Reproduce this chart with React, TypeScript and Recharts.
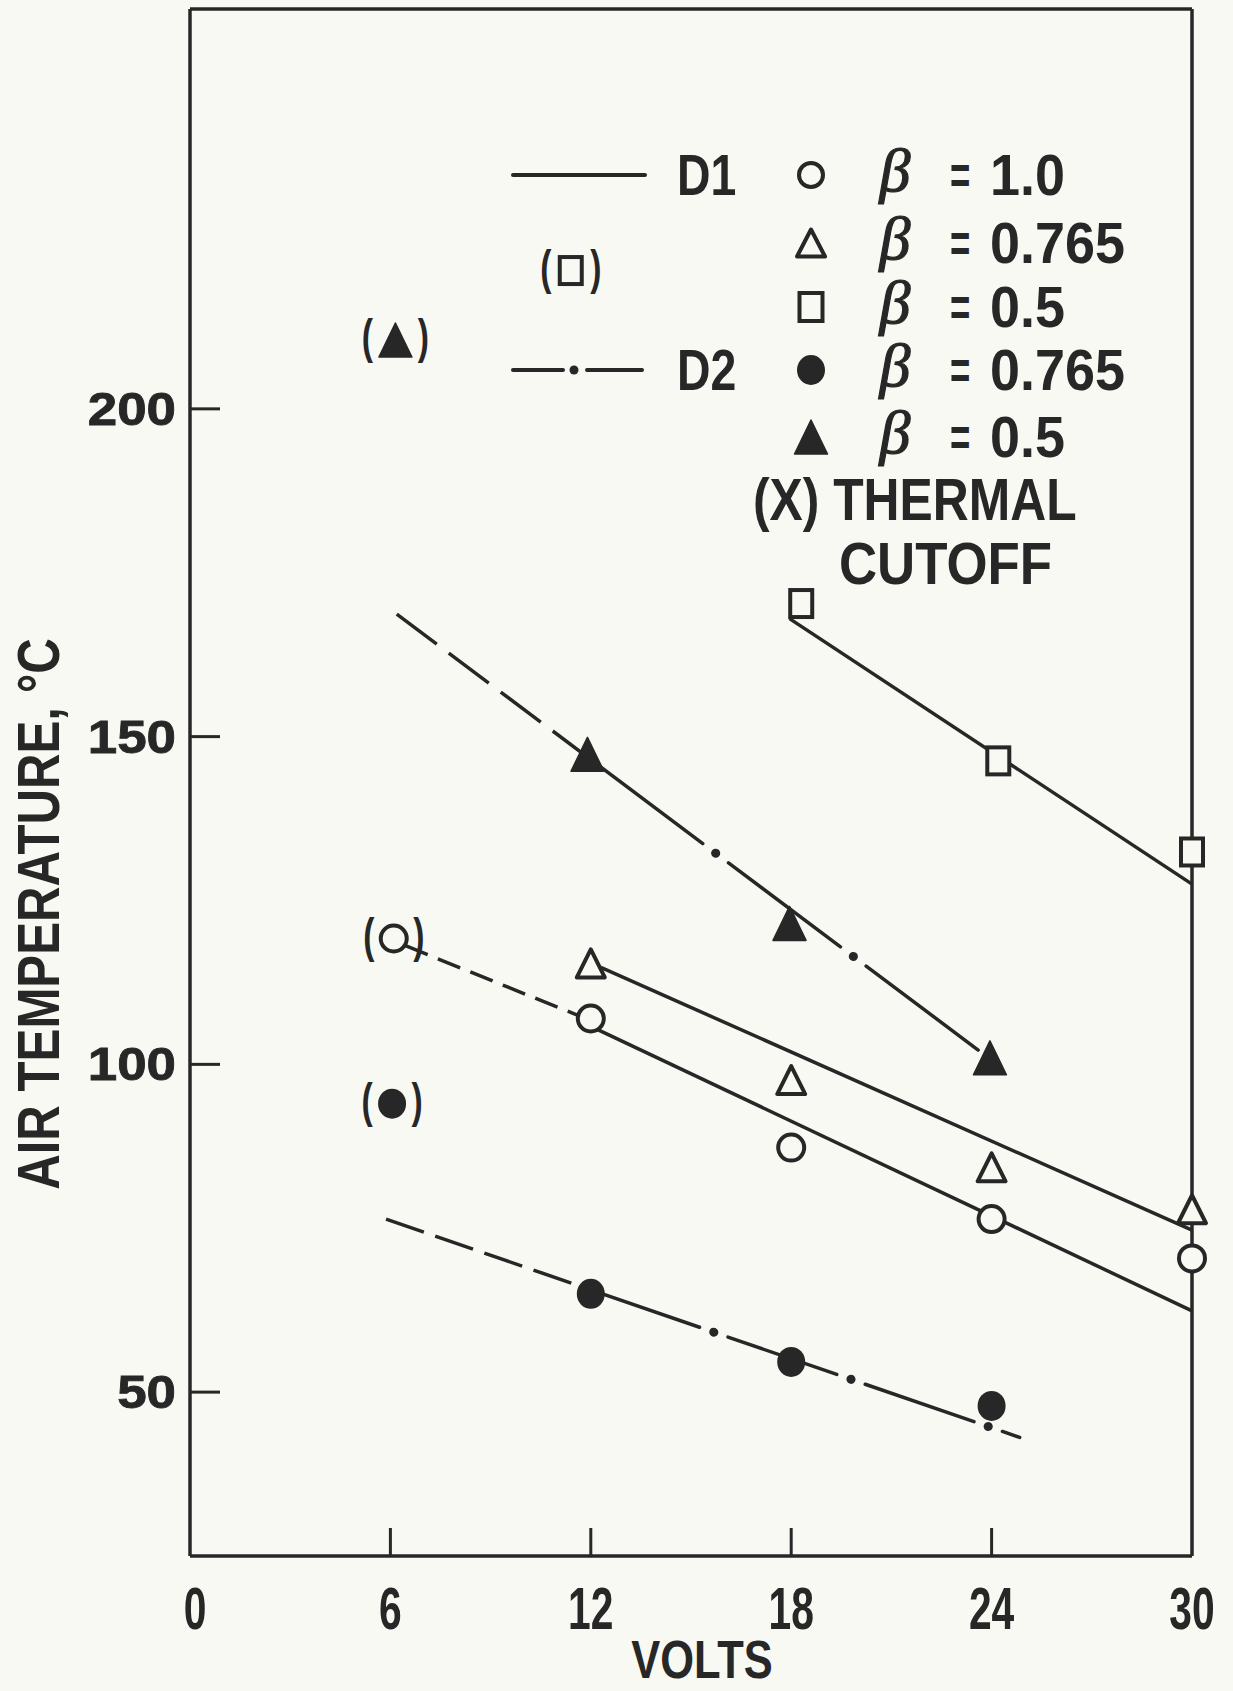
import React from 'react';
import { ComposedChart, XAxis, YAxis, Line, Scatter, Customized, Label } from 'recharts';

const INK = '#272727';
const BG = '#f9f9f3';
const FONT = '"Liberation Sans", Arial, Helvetica, sans-serif';
const SERIF = '"Liberation Serif", "DejaVu Serif", serif';

// ---- axes ----
const xDomain = [0, 30];
const yDomain = [25, 261];
const xTicks = [0, 6, 12, 18, 24, 30];
const xInnerTicks = [6, 12, 18, 24];
const yTicks = [50, 100, 150, 200];

// ---- measured points ----
// D1, beta = 1.0 (open circles)
const d1b10Volts = [12, 18, 24, 30];
const d1b10Temp = [107.0, 87.3, 76.4, 70.4];
// D1, beta = 0.765 (open triangles)
const d1b0765Volts = [12, 18, 24, 30];
const d1b0765Temp = [115.4, 97.6, 84.3, 77.9];
// D1, beta = 0.5 (open squares)
const d1b05Volts = [18.3, 24.2, 30];
const d1b05Temp = [170.3, 146.3, 132.4];
// D2, beta = 0.765 (filled circles)
const d2b0765Volts = [12, 18, 24];
const d2b0765Temp = [65.0, 54.6, 47.9];
// D2, beta = 0.5 (filled triangles)
const d2b05Volts = [11.9, 17.95, 23.95];
const d2b05Temp = [147.3, 121.5, 101.0];

// thermal cutoff points (shown in parentheses)
const cutoffVolts = [6.1, 11.4, 6.05, 6.15];
const cutoffTemp = [119.2, 221.1, 94.0, 210.5];
const cutoffMarker = ['openCircle', 'openSquare', 'filledCircle', 'filledTriangle'];

// ---- fitted lines (end points) ----
const fitD1b10Volts = [12, 30];
const fitD1b10Temp = [105.8, 62.4];
const fitD1b10ExtVolts = [6.45, 11.7];
const fitD1b10ExtTemp = [118.1, 107.3];
const fitD1b0765Volts = [12.3, 30];
const fitD1b0765Temp = [114.8, 74.7];
const fitD1b05Volts = [17.95, 30];
const fitD1b05Temp = [168.0, 127.5];
const fitD2b05ExtVolts = [6.19, 12];
const fitD2b05ExtTemp = [168.7, 146.5];
const fitD2b05Volts = [12, 24.3];
const fitD2b05Temp = [146.5, 99.5];
const fitD2b0765ExtVolts = [5.87, 12];
const fitD2b0765ExtTemp = [76.4, 65.6];
const fitD2b0765Volts = [12, 24.84];
const fitD2b0765Temp = [65.6, 43.1];

const pts = (xs: number[], ys: number[]) => xs.map((x, i) => ({ x, y: ys[i] }));
const cutoffData = cutoffVolts.map((x, i) => ({ x, y: cutoffTemp[i], m: cutoffMarker[i] }));

// ---- marker shapes ----
const SW = 4;
const OpenCircle = ({ cx, cy, r = 13 }: any) => (
  <circle cx={cx} cy={cy} r={r} fill={BG} stroke={INK} strokeWidth={SW} />
);
const OpenTriangle = ({ cx, cy, w = 28, h = 28 }: any) => (
  <polygon
    points={`${cx},${cy - h / 2} ${cx + w / 2},${cy + h / 2} ${cx - w / 2},${cy + h / 2}`}
    fill={BG}
    stroke={INK}
    strokeWidth={SW}
    strokeLinejoin="round"
  />
);
const OpenSquare = ({ cx, cy, w = 22, h = 27 }: any) => (
  <rect x={cx - w / 2} y={cy - h / 2} width={w} height={h} fill={BG} stroke={INK} strokeWidth={SW} />
);
const FilledCircle = ({ cx, cy }: any) => <ellipse cx={cx} cy={cy} rx={14} ry={15} fill={INK} />;
const FilledTriangle = ({ cx, cy, w = 33, h = 34 }: any) => (
  <polygon
    points={`${cx},${cy - h / 2} ${cx + w / 2},${cy + h / 2} ${cx - w / 2},${cy + h / 2}`}
    fill={INK}
    stroke={INK}
    strokeWidth={1.5}
    strokeLinejoin="round"
  />
);
const Paren = ({ cx, cy, gap }: any) => (
  <g>
    <text transform={`translate(${cx - gap} ${cy + 13}) scale(0.8 1.15)`} textAnchor="middle" fontSize={42} fontWeight={700} fontFamily={FONT} fill={INK}>(</text>
    <text transform={`translate(${cx + gap} ${cy + 13}) scale(0.8 1.15)`} textAnchor="middle" fontSize={42} fontWeight={700} fontFamily={FONT} fill={INK}>)</text>
  </g>
);
const CutoffShape = (props: any) => {
  const { cx, cy, payload } = props;
  const m = payload.m;
  let mk = null;
  if (m === 'openCircle') mk = <OpenCircle cx={cx} cy={cy} />;
  else if (m === 'openSquare') mk = <OpenSquare cx={cx} cy={cy} />;
  else if (m === 'filledCircle') mk = <FilledCircle cx={cx} cy={cy} />;
  else mk = <FilledTriangle cx={cx} cy={cy} />;
  return (
    <g>
      <Paren cx={cx} cy={cy} gap={m === 'filledTriangle' ? 28 : 25} />
      {mk}
    </g>
  );
};

// ---- text helper ----
const T = ({ x, y, sx = 1, size, anchor = 'start', children, weight = 700, family = FONT, italic = false, strokeW = 0 }: any) => (
  <text
    transform={`translate(${x} ${y}) scale(${sx} 1)`}
    textAnchor={anchor}
    fontSize={size}
    fontWeight={weight}
    fontFamily={family}
    fontStyle={italic ? 'italic' : 'normal'}
    fill={INK}
    stroke={strokeW ? INK : 'none'}
    strokeWidth={strokeW}
  >
    {children}
  </text>
);

// ---- ticks (drawn inside the frame) ----
const BottomTick = ({ x, y, payload }: any) => (
  <g>
    {xInnerTicks.includes(payload.value) && (
      <line x1={x} x2={x} y1={y} y2={y - 28} stroke={INK} strokeWidth={3} />
    )}
    <T x={payload.value === 0 ? x + 5 : x} y={y + 73} sx={0.68} size={60} anchor="middle">{payload.value}</T>
  </g>
);
const TopTick = ({ x, y, payload }: any) =>
  xInnerTicks.includes(payload.value) ? (
    <line x1={x} x2={x} y1={y} y2={y + 29} stroke={INK} strokeWidth={3} />
  ) : (
    <g />
  );
const LeftTick = ({ x, y, payload }: any) => (
  <g>
    <line x1={x} x2={x + 30} y1={y} y2={y} stroke={INK} strokeWidth={3} />
    <T x={x - 14} y={y + 16} sx={1.15} size={46} anchor="end" strokeW={0.8}>{payload.value}</T>
  </g>
);
const RightTick = ({ x, y }: any) => <line x1={x} x2={x - 30} y1={y} y2={y} stroke={INK} strokeWidth={3} />;

// ---- legend block ----
const LegendBlock = () => {
  const rows = [175, 243, 307, 370, 437];
  const values = ['1.0', '0.765', '0.5', '0.765', '0.5'];
  const mx = 811;
  return (
    <g>
      <line x1={513} x2={645} y1={rows[0]} y2={rows[0]} stroke={INK} strokeWidth={4} strokeLinecap="round" />
      <T x={677} y={rows[0] + 20} sx={0.8} size={58}>D1</T>
      <line x1={513} x2={563} y1={rows[3]} y2={rows[3]} stroke={INK} strokeWidth={4} strokeLinecap="round" />
      <circle cx={574} cy={rows[3]} r={4.5} fill={INK} />
      <line x1={587} x2={642} y1={rows[3]} y2={rows[3]} stroke={INK} strokeWidth={4} strokeLinecap="round" />
      <T x={677} y={rows[3] + 20} sx={0.8} size={58}>D2</T>
      <OpenCircle cx={mx} cy={rows[0]} r={12} />
      <OpenTriangle cx={mx} cy={rows[1]} w={28} h={27} />
      <OpenSquare cx={mx} cy={rows[2]} w={23} h={28} />
      <FilledCircle cx={mx} cy={rows[3]} />
      <FilledTriangle cx={mx} cy={rows[4]} />
      {rows.map((ry, i) => (
        <g key={i}>
          <T x={895} y={ry + 16} size={62} anchor="middle" weight={400} family={SERIF} italic strokeW={1.2}>β</T>
          <T x={950} y={ry + 19} sx={0.62} size={56}>=</T>
          <T x={990} y={ry + 20} sx={0.93} size={58}>{values[i]}</T>
        </g>
      ))}
      <T x={753} y={520} sx={0.83} size={60}>(X) THERMAL</T>
      <T x={839} y={584} sx={0.88} size={60}>CUTOFF</T>
    </g>
  );
};

const lineProps = { stroke: INK, strokeWidth: 3.5, dot: false, isAnimationActive: false, type: 'linear' as const, dataKey: 'y', legendType: 'none' as const };

export default function App() {
  const axisLine = { stroke: INK, strokeWidth: 3.5 };
  return (
    <div style={{ position: 'absolute', left: 0, top: 0, width: 1233, height: 1691, background: BG, overflow: 'hidden' }}>
      <ComposedChart width={1233} height={1691} margin={{ top: 0, right: 0, bottom: 0, left: 0 }}>
        <XAxis
          dataKey="x"
          type="number"
          domain={xDomain}
          ticks={xTicks}
          interval={0}
          height={135}
          axisLine={axisLine}
          tickLine={false}
          tickSize={0}
          tickMargin={0}
          tick={<BottomTick />}
        >
          <Label
            content={() => (
              <T x={702} y={1678} sx={0.82} size={53} anchor="middle">VOLTS</T>
            )}
          />
        </XAxis>
        <XAxis
          xAxisId="top"
          orientation="top"
          dataKey="x"
          type="number"
          domain={xDomain}
          ticks={xInnerTicks}
          interval={0}
          height={9}
          axisLine={axisLine}
          tickLine={false}
          tickSize={0}
          tickMargin={0}
          tick={<TopTick />}
        />
        <YAxis
          dataKey="y"
          type="number"
          domain={yDomain}
          ticks={yTicks}
          interval={0}
          width={190}
          axisLine={axisLine}
          tickLine={false}
          tickSize={0}
          tickMargin={0}
          tick={<LeftTick />}
        >
          <Label
            content={() => (
              <text
                transform="translate(59 914) rotate(-90) scale(0.82 1)"
                textAnchor="middle"
                fontSize={60}
                fontWeight={700}
                fontFamily={FONT}
                fill={INK}
              >
                AIR TEMPERATURE, °C
              </text>
            )}
          />
        </YAxis>
        <YAxis
          yAxisId="right"
          orientation="right"
          dataKey="y"
          type="number"
          domain={yDomain}
          ticks={yTicks}
          interval={0}
          width={41}
          axisLine={axisLine}
          tickLine={false}
          tickSize={0}
          tickMargin={0}
          tick={<RightTick />}
        />

        {/* D1 fitted lines */}
        <Line {...lineProps} data={pts(fitD1b05Volts, fitD1b05Temp)} />
        <Line {...lineProps} data={pts(fitD1b0765Volts, fitD1b0765Temp)} />
        <Line {...lineProps} data={pts(fitD1b10Volts, fitD1b10Temp)} />
        <Line {...lineProps} data={pts(fitD1b10ExtVolts, fitD1b10ExtTemp)} strokeDasharray="24 11" />

        {/* D2 fitted lines */}
        <Line {...lineProps} data={pts(fitD2b05ExtVolts, fitD2b05ExtTemp)} strokeDasharray="50 15" />
        <Line {...lineProps} data={pts(fitD2b05Volts, fitD2b05Temp)} strokeDasharray="140 16 0.1 16" strokeLinecap="round" />
        <Line {...lineProps} data={pts(fitD2b05Volts, fitD2b05Temp)} strokeWidth={9} strokeDasharray="0.1 172" strokeDashoffset={16.1} strokeLinecap="round" />
        <Line {...lineProps} data={pts(fitD2b0765ExtVolts, fitD2b0765ExtTemp)} strokeDasharray="40 12" />
        <Line {...lineProps} data={pts(fitD2b0765Volts, fitD2b0765Temp)} strokeDasharray="115 15 0.1 15" strokeLinecap="round" />
        <Line {...lineProps} data={pts(fitD2b0765Volts, fitD2b0765Temp)} strokeWidth={9} strokeDasharray="0.1 145" strokeDashoffset={15.1} strokeLinecap="round" />

        {/* markers */}
        <Scatter data={pts(d1b10Volts, d1b10Temp)} shape={(p: any) => <OpenCircle cx={p.cx} cy={p.cy} />} isAnimationActive={false} legendType="none" />
        <Scatter data={pts(d1b0765Volts, d1b0765Temp)} shape={(p: any) => <OpenTriangle cx={p.cx} cy={p.cy} />} isAnimationActive={false} legendType="none" />
        <Scatter data={pts(d1b05Volts, d1b05Temp)} shape={(p: any) => <OpenSquare cx={p.cx} cy={p.cy} />} isAnimationActive={false} legendType="none" />
        <Scatter data={pts(d2b0765Volts, d2b0765Temp)} shape={(p: any) => <FilledCircle cx={p.cx} cy={p.cy} />} isAnimationActive={false} legendType="none" />
        <Scatter data={pts(d2b05Volts, d2b05Temp)} shape={(p: any) => <FilledTriangle cx={p.cx} cy={p.cy} />} isAnimationActive={false} legendType="none" />
        <Scatter data={cutoffData} shape={CutoffShape} isAnimationActive={false} legendType="none" />

        <Customized component={LegendBlock} />
      </ComposedChart>
    </div>
  );
}
